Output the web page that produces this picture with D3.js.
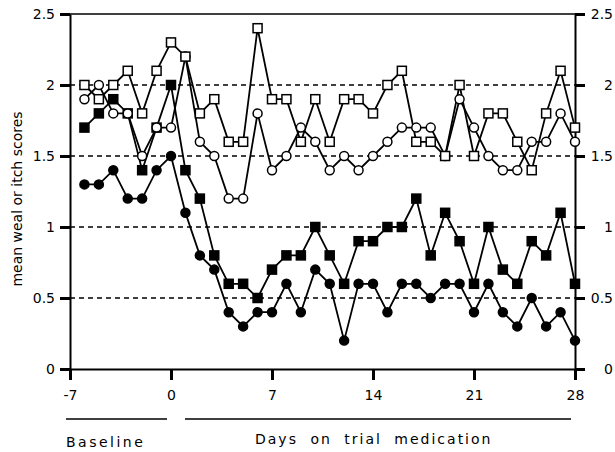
<!DOCTYPE html>
<html>
<head>
<meta charset="utf-8">
<script src="https://cdn.jsdelivr.net/npm/d3@7"></script>
<style>
  body { margin: 0; background: #fff; }
  svg { display: block; font-family: "DejaVu Sans", Verdana, sans-serif; }
</style>
</head>
<body>
<svg id="chart" width="615" height="452"></svg>
<script>
// days of the trial, baseline starts at -6
const days = d3.range(-6, 29);

const openSquares = [2.0, 1.9, 2.0, 2.1, 1.8, 2.1, 2.3, 2.2, 1.8, 1.9, 1.6, 1.6, 2.4, 1.9, 1.9, 1.6, 1.9, 1.6,
  1.9, 1.9, 1.8, 2.0, 2.1, 1.6, 1.6, 1.5, 2.0, 1.5, 1.8, 1.8, 1.6, 1.4, 1.8, 2.1, 1.7];
const openCircles = [1.9, 2.0, 1.8, 1.8, 1.5, 1.7, 1.7, 2.2, 1.6, 1.5, 1.2, 1.2, 1.8, 1.4, 1.5, 1.7, 1.6, 1.4,
  1.5, 1.4, 1.5, 1.6, 1.7, 1.7, 1.7, 1.5, 1.9, 1.7, 1.5, 1.4, 1.4, 1.6, 1.6, 1.8, 1.6];
const filledSquares = [1.7, 1.8, 1.9, 1.8, 1.4, 1.7, 2.0, 1.4, 1.2, 0.8, 0.6, 0.6, 0.5, 0.7, 0.8, 0.8, 1.0, 0.8,
  0.6, 0.9, 0.9, 1.0, 1.0, 1.2, 0.8, 1.1, 0.9, 0.6, 1.0, 0.7, 0.6, 0.9, 0.8, 1.1, 0.6];
const filledCircles = [1.3, 1.3, 1.4, 1.2, 1.2, 1.4, 1.5, 1.1, 0.8, 0.7, 0.4, 0.3, 0.4, 0.4, 0.6, 0.4, 0.7, 0.6,
  0.2, 0.6, 0.6, 0.4, 0.6, 0.6, 0.5, 0.6, 0.6, 0.4, 0.6, 0.4, 0.3, 0.5, 0.3, 0.4, 0.2];

const xTicks = [-7, 0, 7, 14, 21, 28];
const yTicks = [0, 0.5, 1, 1.5, 2, 2.5];
const gridValues = [0.5, 1, 1.5, 2];

const svg = d3.select("#chart");
const mLeft = 70, mRight = 575, mTop = 14, mBottom = 369;

const x = d3.scaleLinear().domain([-7, 28]).range([mLeft, mRight]);
const y = d3.scaleLinear().domain([0, 2.5]).range([mBottom, mTop]);

// dashed grid lines
svg.append("g")
  .selectAll("line")
  .data(gridValues)
  .join("line")
  .attr("x1", mLeft).attr("x2", mRight)
  .attr("y1", d => y(d)).attr("y2", d => y(d))
  .attr("stroke", "#000")
  .attr("stroke-width", 1.5)
  .attr("stroke-dasharray", "5,4");

// top frame line
svg.append("line")
  .attr("x1", mLeft).attr("x2", mRight)
  .attr("y1", y(2.5)).attr("y2", y(2.5))
  .attr("stroke", "#000").attr("stroke-width", 1.5);

const styleAxis = (g) => {
  g.select(".domain").attr("stroke-width", 2);
  g.selectAll(".tick line").attr("stroke-width", 3);
  g.selectAll("text").attr("font-size", 14).attr("fill", "#000")
    .attr("font-family", "DejaVu Sans, Verdana, sans-serif");
};

svg.append("g")
  .attr("transform", `translate(${mLeft},0)`)
  .call(d3.axisLeft(y).tickValues(yTicks).tickFormat(d => String(d)).tickSize(10).tickSizeOuter(0).tickPadding(5))
  .call(styleAxis)
  .call(g => g.selectAll("text").attr("dy", "0.35em"));

svg.append("g")
  .attr("transform", `translate(${mRight},0)`)
  .call(d3.axisRight(y).tickValues(yTicks).tickFormat(d => String(d)).tickSize(10).tickSizeOuter(0))
  .call(styleAxis)
  .call(g => g.selectAll("text").attr("x", 38).attr("text-anchor", "end").attr("dy", "0.35em"));

svg.append("g")
  .attr("transform", `translate(0,${mBottom})`)
  .call(d3.axisBottom(x).tickValues(xTicks).tickFormat(d => String(d)).tickSize(11).tickSizeOuter(0).tickPadding(10))
  .call(styleAxis);

// y title
svg.append("text")
  .attr("transform", `translate(22,199) rotate(-90)`)
  .attr("text-anchor", "middle")
  .attr("font-size", 14)
  .text("mean weal or itch scores");

// period bars below axis
svg.append("line").attr("x1", 66).attr("x2", 167).attr("y1", 419).attr("y2", 419)
  .attr("stroke", "#000").attr("stroke-width", 1.5);
svg.append("line").attr("x1", 185).attr("x2", 571).attr("y1", 419).attr("y2", 419)
  .attr("stroke", "#000").attr("stroke-width", 1.5);

svg.append("text")
  .attr("x", 66).attr("y", 447)
  .attr("font-size", 14)
  .attr("letter-spacing", 2.5)
  .text("Baseline");
svg.append("text")
  .attr("x", 255).attr("y", 444)
  .attr("font-size", 14)
  .attr("letter-spacing", 2).attr("word-spacing", 6)
  .text("Days on trial medication");

// series
const series = [
  { values: filledCircles, shape: "circle", fill: "#000" },
  { values: filledSquares, shape: "square", fill: "#000" },
  { values: openCircles, shape: "circle", fill: "#fff" },
  { values: openSquares, shape: "square", fill: "#fff" }
];

const line = d3.line().x((d, i) => x(days[i])).y(d => y(d));

svg.append("g")
  .selectAll("path")
  .data(series)
  .join("path")
  .attr("d", s => line(s.values))
  .attr("fill", "none")
  .attr("stroke", "#000")
  .attr("stroke-width", 1.8);

const marks = svg.append("g");
series.forEach(s => {
  const g = marks.append("g");
  if (s.shape === "square") {
    g.selectAll("rect")
      .data(s.values)
      .join("rect")
      .attr("x", (d, i) => x(days[i]) - 4.5)
      .attr("y", d => y(d) - 4.5)
      .attr("width", 9).attr("height", 9)
      .attr("fill", s.fill).attr("stroke", "#000").attr("stroke-width", 1.5);
  } else {
    g.selectAll("circle")
      .data(s.values)
      .join("circle")
      .attr("cx", (d, i) => x(days[i]))
      .attr("cy", d => y(d))
      .attr("r", 4.5)
      .attr("fill", s.fill).attr("stroke", "#000").attr("stroke-width", 1.5);
  }
});
</script>
</body>
</html>
